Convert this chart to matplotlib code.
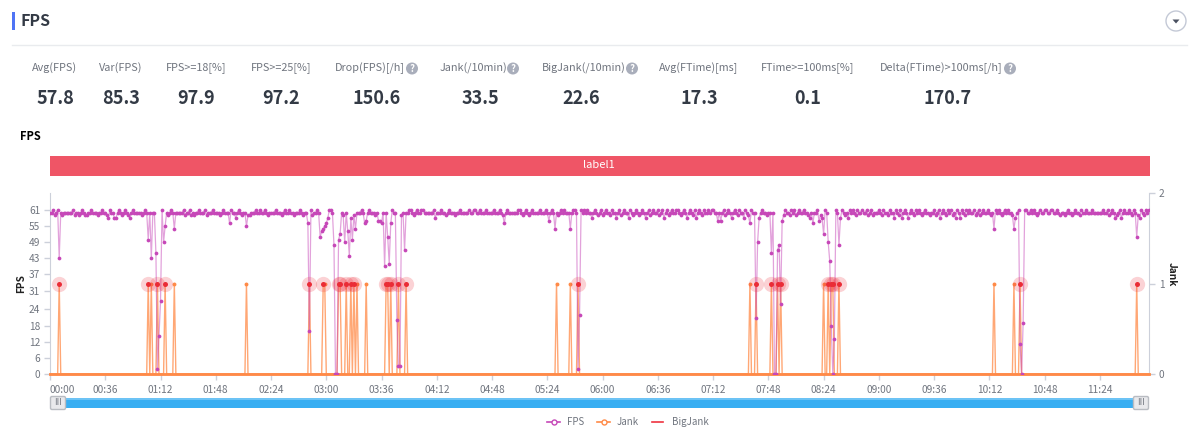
import numpy as np
import matplotlib
matplotlib.use("Agg")
import matplotlib.pyplot as plt
from matplotlib.patches import Rectangle, Circle, Polygon, FancyBboxPatch

plt.rcParams['font.family'] = ['Noto Sans CJK SC', 'DejaVu Sans']

# ---------- summary cards ----------
metric_names = ["Avg(FPS)", "Var(FPS)", "FPS>=18[%]", "FPS>=25[%]", "Drop(FPS)[/h]", "Jank(/10min)",
                "BigJank(/10min)", "Avg(FTime)[ms]", "FTime>=100ms[%]", "Delta(FTime)>100ms[/h]"]
metric_values = ["57.8", "85.3", "97.9", "97.2", "150.6", "33.5", "22.6", "17.3", "0.1", "170.7"]

# ---------- axis ----------
time_labels = ["00:00", "00:36", "01:12", "01:48", "02:24", "03:00", "03:36", "04:12", "04:48", "05:24",
               "06:00", "06:36", "07:12", "07:48", "08:24", "09:00", "09:36", "10:12", "10:48", "11:24"]
time_minutes = [0, 36, 72, 108, 144, 180, 216, 252, 288, 324, 360, 396, 432, 468, 504, 540, 576, 612, 648, 684]
fps_ticks = [0, 6, 12, 18, 24, 31, 37, 43, 49, 55, 61]
jank_ticks = [0, 1, 2]

# ---------- FPS, one value per minute (usual level) ----------
fps_row00 = [60,60,61,59,60,61,60,60,59,60,60,60,60,60,60,61,59,60,60,59,60,61,60,59,59,60,60,61,60,60,60,59,60,60,61,60]
fps_row01 = [60,59,60,61,60,60,59,58,60,61,60,59,60,61,60,59,60,60,61,60,60,60,60,60,59,60,61,60,60,60,60,60,60,61,60,59]
fps_row02 = [60,60,61,60,60,59,60,61,60,60,60,60,60,60,60,61,59,60,60,61,59,60,59,60,60,61,60,60,60,61,59,60,60,60,61,60]
fps_row03 = [60,60,60,59,60,61,60,60,60,60,61,60,60,59,60,61,60,59,60,60,60,59,59,60,60,60,61,60,60,61,60,60,61,60,59,60]
fps_row04 = [60,60,60,61,60,60,60,59,60,61,60,60,61,60,60,59,60,60,60,61,60,59,60,60,61,60,61,59,60,60,61,60,60,59,60,61]
fps_row05 = [60,60,61,61,60,60,60,60,60,60,60,60,60,60,61,61,60,60,61,60,60,60,60,61,60,59,60,60,61,60,60,60,59,60,60,60]
fps_row06 = [60,60,61,60,61,60,60,61,60,60,61,60,60,59,60,60,60,60,61,61,60,59,60,61,60,60,61,61,60,60,60,60,60,60,61,60]
fps_row07 = [60,60,60,61,60,60,59,60,61,60,60,60,59,60,60,61,60,60,60,60,60,61,60,60,61,61,60,60,61,60,60,60,61,60,60,60]
fps_row08 = [60,61,60,60,60,61,60,59,60,60,61,60,60,60,60,60,60,61,61,60,59,60,61,60,59,60,61,60,60,60,60,61,60,60,60,61]
fps_row09 = [60,59,60,61,60,58,60,59,60,61,60,61,60,60,60,59,60,61,61,60,60,59,61,60,61,60,61,60,60,58,60,61,60,59,60,61]
fps_row10 = [59,60,61,60,60,59,61,60,60,58,60,61,59,60,61,60,60,58,61,60,59,60,61,60,59,60,61,60,58,60,61,59,60,61,60,60]
fps_row11 = [61,59,60,61,58,60,61,59,60,61,60,60,61,61,60,59,60,61,60,58,60,61,60,59,61,58,60,61,60,59,61,60,60,61,60,61]
fps_row12 = [61,60,60,57,60,57,60,61,59,60,61,60,58,60,61,60,59,61,60,60,58,61,60,59,60,61,60,60,59,61,60,60,61,60,60,59]
fps_row13 = [60,61,60,60,59,60,61,59,61,60,59,61,60,60,59,61,60,61,59,60,61,60,60,61,60,60,59,58,60,61,60,60,61,60,59,60]
fps_row14 = [60,61,60,60,61,60,60,59,61,60,59,60,61,60,59,60,58,61,60,61,60,59,61,60,60,61,60,60,61,59,60,61,59,60,60,60]
fps_row15 = [61,60,59,61,60,60,59,61,60,60,58,61,60,59,61,58,60,61,60,58,60,61,60,59,61,60,61,60,59,60,61,60,60,59,60,60]
fps_row16 = [61,59,60,61,58,60,61,60,59,61,60,61,59,60,58,61,60,58,61,60,59,61,60,61,60,60,61,59,60,61,59,60,61,60,60,61]
fps_row17 = [60,59,60,60,61,60,61,60,59,60,61,60,61,60,60,59,60,58,60,61,60,61,59,60,61,60,60,61,60,61,60,59,60,61,60,60]
fps_row18 = [61,61,60,60,61,61,60,60,61,60,59,60,60,59,60,61,60,60,59,60,61,60,60,59,61,60,60,61,60,60,60,61,60,60,60,60]
fps_row19 = [60,60,61,60,60,61,59,60,61,60,58,59,60,61,58,60,61,60,60,61,60,59,61,60,61,59,58,61,60,59,61,60,61]

# ---------- FPS, minutes that leave the usual level ----------
dip_minutes_a = [6, 38, 42, 52, 64, 66, 69, 70, 71, 72, 73, 74, 75, 81, 117, 121, 128]
dip_values_a = [43, 58, 58, 58, 50, 43, 45, 2, 14, 27, 61, 49, 55, 54, 56, 58, 55]
dip_minutes_b = [168, 169, 176, 177, 178, 179, 180, 181, 185, 186, 187, 188, 189, 191, 192, 193, 194, 195, 196, 197,
                 198, 199, 205, 206, 214, 215, 216, 218, 219, 220, 221, 222, 226, 227, 228, 229, 231]
dip_values_b = [56, 16, 51, 53, 54, 55, 56, 58, 48, 0, 0, 50, 52, 59, 49, 60, 53, 44, 58, 50,
                59, 54, 56, 57, 57, 57, 56, 40, 60, 51, 41, 56, 20, 3, 3, 59, 46]
dip_minutes_c = [251, 296, 325, 329, 339, 343, 344, 345]
dip_values_c = [58, 56, 57, 54, 54, 60, 2, 22]
dip_minutes_d = [456, 459, 460, 461, 462, 469, 470, 472, 473, 474, 475, 476, 477,
                 497, 501, 503, 504, 507, 508, 509, 510, 511, 512, 514, 515]
dip_values_d = [56, 60, 21, 49, 58, 60, 45, 0, 0, 46, 48, 26, 57,
                56, 57, 58, 52, 49, 42, 18, 0, 13, 61, 48, 58]
dip_minutes_e = [615, 628, 632, 633, 634, 635, 708]
dip_values_e = [54, 54, 11, 0, 19, 61, 51]

# ---------- Jank / BigJank: minutes where the series is 1, 0 elsewhere ----------
jank_only_minutes = [66, 81, 128, 179, 200, 206, 330, 339, 456, 504, 615, 628]
big_minutes = [6, 64, 70, 75, 169, 178, 188, 189, 193, 196, 198, 219, 220, 222, 227, 232, 344,
               460, 470, 474, 476, 507, 509, 510, 514, 632, 708]

fps = np.array(fps_row00 + fps_row01 + fps_row02 + fps_row03 + fps_row04 + fps_row05 + fps_row06 +
               fps_row07 + fps_row08 + fps_row09 + fps_row10 + fps_row11 + fps_row12 + fps_row13 +
               fps_row14 + fps_row15 + fps_row16 + fps_row17 + fps_row18 + fps_row19, dtype=float)
for m_list, v_list in [(dip_minutes_a, dip_values_a), (dip_minutes_b, dip_values_b), (dip_minutes_c, dip_values_c),
                       (dip_minutes_d, dip_values_d), (dip_minutes_e, dip_values_e)]:
    fps[m_list] = v_list
minutes = np.arange(len(fps))
jank = np.zeros(len(fps))
jank[jank_only_minutes + big_minutes] = 1
bigjank = np.zeros(len(fps))

W, H = 1200, 432
fig = plt.figure(figsize=(W / 100, H / 100), dpi=100, facecolor="white")

# page furniture in pixel coordinates
bg = fig.add_axes([0, 0, 1, 1])
bg.set_xlim(0, W)
bg.set_ylim(H, 0)
bg.axis("off")

TXT = "#333a45"
GREY = "#70757f"
bg.add_patch(Rectangle((12, 12), 3, 18, fc="#4f74f5", ec="none"))
bg.text(21, 21, "FPS", fontsize=11.5, fontweight="bold", color=TXT, va="center", ha="left")
bg.plot([12, 1187], [45, 45], color="#e9ebee", lw=1)
bg.add_patch(Circle((1176, 21), 10, fc="white", ec="#c4c9d6", lw=1))
bg.add_patch(Polygon([[1172.5, 19.5], [1179.5, 19.5], [1176, 23.5]], fc="#4a5060", ec="none"))

label_centres = [55, 121, 196, 281.5, 370, 473, 584, 699, 808, 941]
value_centres = [55.5, 121, 196, 281, 377, 480, 581, 699, 808, 948]
help_icons = {4: 412, 5: 513, 6: 632, 9: 1010}
for i, name in enumerate(metric_names):
    bg.text(label_centres[i], 68, name, fontsize=7.8, color=GREY, ha="center", va="center")
    bg.text(value_centres[i], 98, metric_values[i], fontsize=13, fontweight="bold", color=TXT, ha="center", va="center")
    if i in help_icons:
        bg.add_patch(Circle((help_icons[i], 68.5), 6, fc="#a9aebb", ec="none"))
        bg.text(help_icons[i], 68.5, "?", fontsize=7, fontweight="bold", color="white", ha="center", va="center")

bg.text(20, 137, "FPS", fontsize=8, fontweight="bold", color="black", ha="left", va="center")
bg.add_patch(Rectangle((50, 156), 1099.5, 20, fc="#ef5566", ec="none"))
bg.text(599, 165.5, "label1", fontsize=8, color="white", ha="center", va="center")

# slider
bg.add_patch(Rectangle((50, 398), 1099, 10, fc="#38aef2", ec="none"))
bg.add_patch(Rectangle((50, 398), 1099, 2, fc="#6cc3f5", ec="none"))
for hx in (50, 1133):
    bg.add_patch(FancyBboxPatch((hx + 0.5, 396.5), 15, 13, boxstyle="round,pad=0,rounding_size=1.5",
                                fc="#e9e9ec", ec="#b9bcc2", lw=1, zorder=5))
    bg.text(hx + 8, 402.8, "III", fontsize=6.5, color="#777b84", ha="center", va="center", zorder=6)

# chart
ax = fig.add_axes([50 / W, (H - 374) / H, 1099 / W, 181 / H])
ax.set_xlim(0, 716)
ax.set_ylim(0, 67.3)
ax.patch.set_alpha(0)
AXC = "#ccd0da"
for s in ("top", "right"):
    ax.spines[s].set_visible(False)
for s in ("left", "bottom"):
    ax.spines[s].set_color(AXC)
ax.set_yticks(fps_ticks)
ax.set_xticks(time_minutes)
ax.set_xticklabels(time_labels)
ax.tick_params(axis="both", colors=AXC, labelcolor=GREY, labelsize=7.3, length=4, width=1, pad=3)
ax.tick_params(axis="x", pad=4)
ax.get_xticklabels()[0].set_ha("left")
ax.set_ylabel("FPS", fontsize=7.3, fontweight="bold", color="#222222", labelpad=2)

ax2 = ax.twinx()
ax2.set_ylim(0, 2)
ax2.set_xlim(0, 716)
ax2.patch.set_alpha(0)
for s in ("top", "left"):
    ax2.spines[s].set_visible(False)
ax2.spines["bottom"].set_color(AXC)
ax2.spines["right"].set_color(AXC)
ax2.set_yticks(jank_ticks)
ax2.tick_params(axis="y", colors=AXC, labelcolor=GREY, labelsize=7.3, length=4, width=1, pad=3)
ax2.set_ylabel("Jank", fontsize=7.3, fontweight="bold", color="#222222", rotation=270, labelpad=9, y=0.55)

FPSC = "#c647b8"
JANKC = "#ff8a47"
REDC = "#ef3340"

ax2.plot(minutes, bigjank, color=REDC, lw=1, zorder=2, clip_on=False)
ax2.plot(minutes, jank, color=JANKC, lw=1, alpha=0.75, zorder=3, clip_on=False)
ax2.plot(minutes, bigjank, color=JANKC, lw=2, zorder=3, clip_on=False)
ax2.plot(np.array(jank_only_minutes), jank[jank_only_minutes], ls="none", marker="o", ms=2.8, color=JANKC, mew=0, zorder=4)
ax2.plot(minutes, fps / 67.3 * 2, color=FPSC, lw=0.9, alpha=0.5, zorder=5)
ax2.plot(minutes, fps / 67.3 * 2, ls="none", marker="o", ms=2.7, color=FPSC, mew=0, zorder=6)
ax2.plot(big_minutes, jank[big_minutes], ls="none", marker="o", ms=11, color="#ef3340", alpha=0.22, mew=0, zorder=7)
ax2.plot(big_minutes, jank[big_minutes], ls="none", marker="o", ms=3.6, color="#ea2c36", mew=0, zorder=8)

# legend
LY = 421.7
bg.plot([547, 560], [LY, LY], color=FPSC, lw=1.2)
bg.plot([553.5], [LY], marker="o", ms=3.6, mfc="white", mec=FPSC, mew=1)
bg.text(567, LY, "FPS", fontsize=7, color=GREY, va="center")
bg.plot([597, 610], [LY, LY], color=JANKC, lw=1.2)
bg.plot([603.5], [LY], marker="o", ms=3.6, mfc="white", mec=JANKC, mew=1)
bg.text(617, LY, "Jank", fontsize=7, color=GREY, va="center")
bg.plot([652, 663], [LY, LY], color=REDC, lw=1.2)
bg.text(672, LY, "BigJank", fontsize=7, color=GREY, va="center")

fig.savefig("out.png", dpi=100, facecolor="white")
